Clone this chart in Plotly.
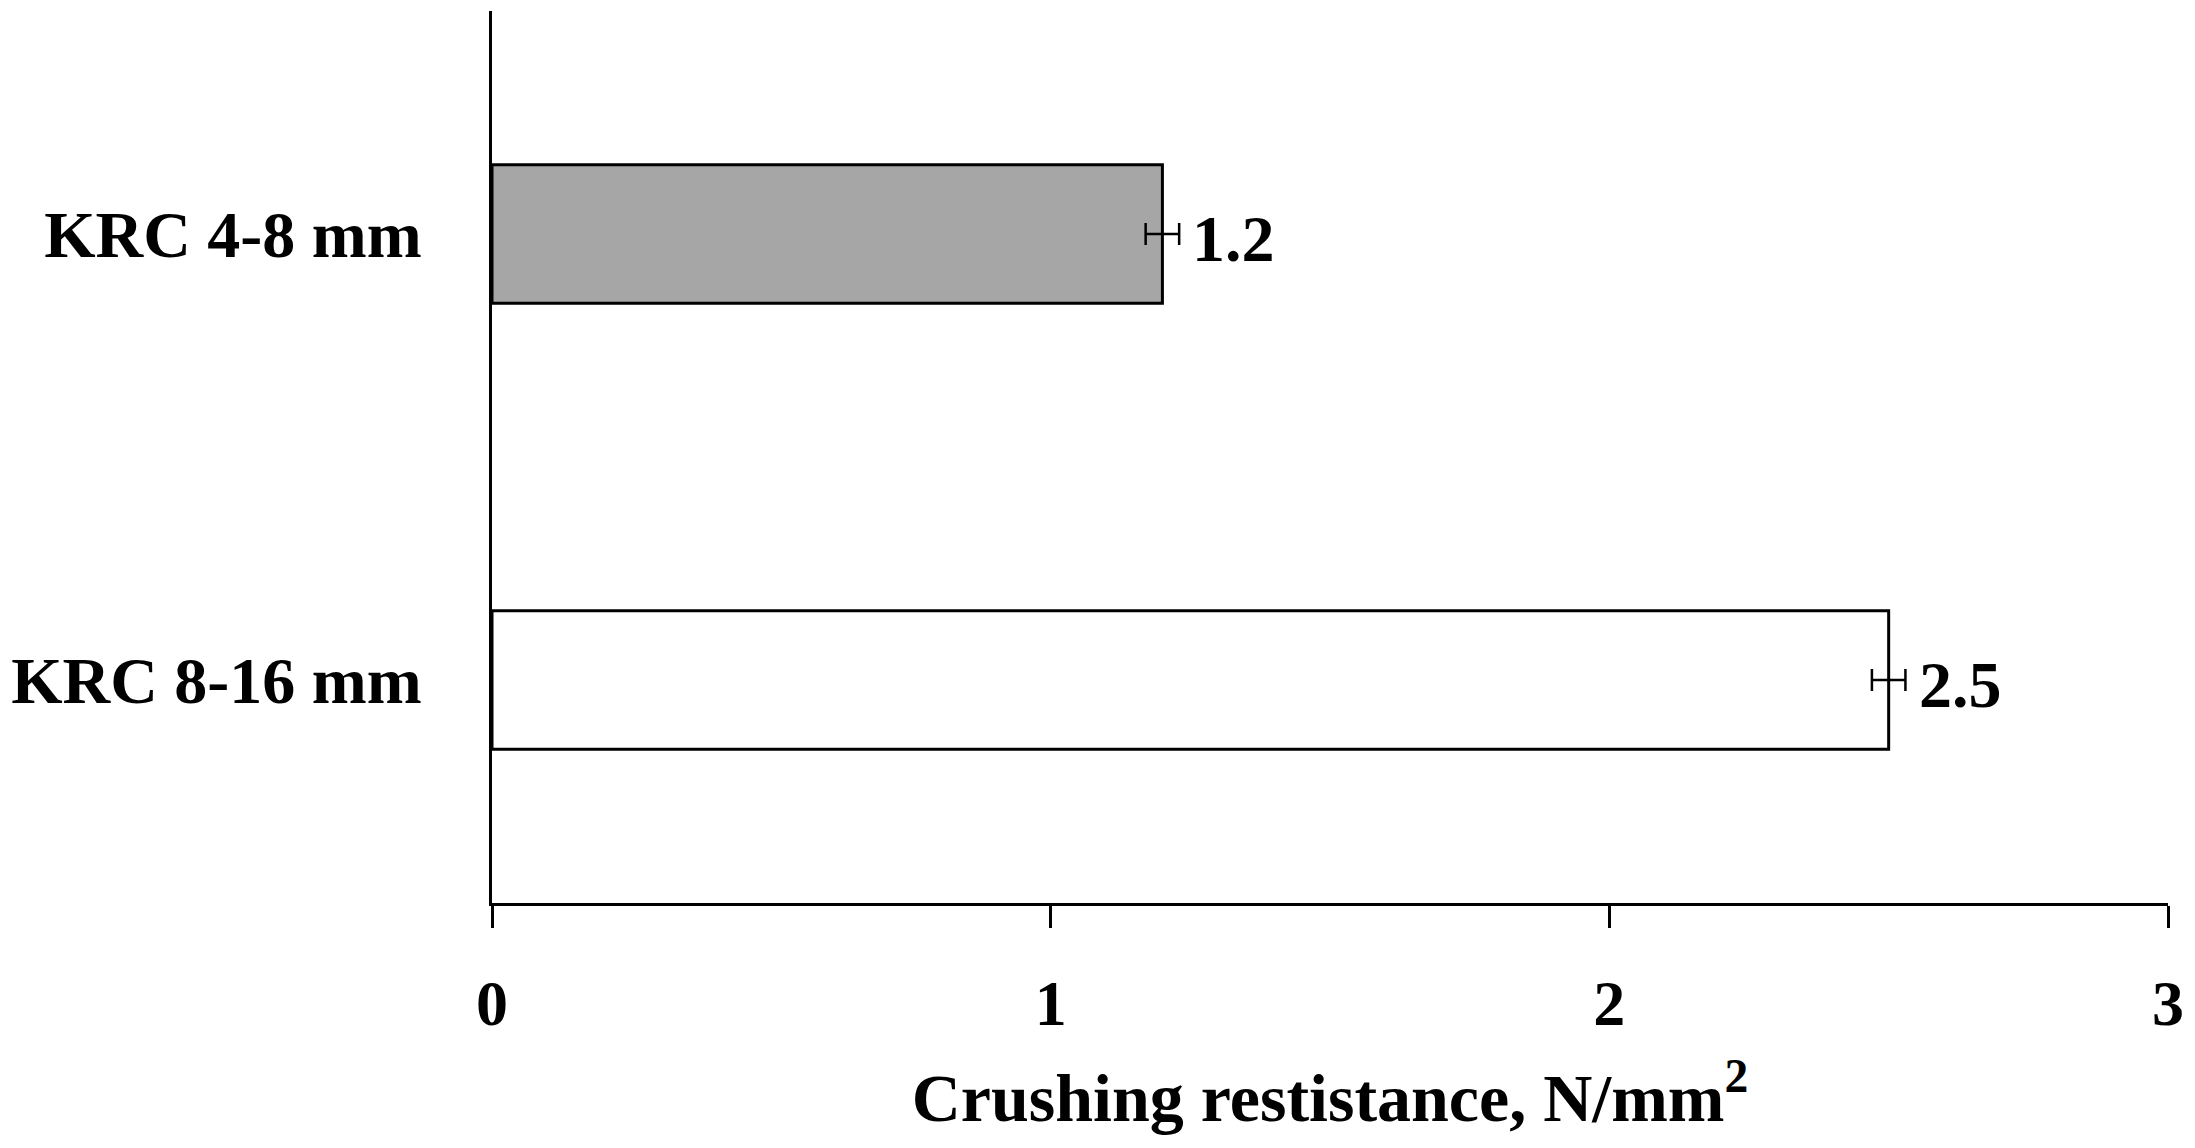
import plotly.graph_objects as go

categories = ["KRC 8-16 mm", "KRC 4-8 mm"]
values = [2.5, 1.2]
errors = [0.03, 0.03]
labels = ["2.5", "1.2"]
colors = ["#ffffff", "#a6a6a6"]
x_ticks = [0, 1, 2, 3]

FONT = "Liberation Serif"

fig = go.Figure()
fig.add_trace(go.Bar(
    y=categories, x=values, orientation="h",
    marker=dict(color=colors, line=dict(color="#000000", width=3)),
    width=0.31,
    error_x=dict(type="data", array=errors, color="#000000", thickness=2.5, width=11),
    showlegend=False,
))

for c, v, lab in zip(categories, values, labels):
    fig.add_annotation(x=v, y=c, text="<b>%s</b>" % lab, showarrow=False,
                       xanchor="left", yanchor="middle", xshift=28, yshift=-4,
                       font=dict(family=FONT, size=66, color="#000000"))

fig.update_layout(
    width=2195, height=1148,
    margin=dict(l=484, r=35, t=3, b=253),
    plot_bgcolor="#ffffff", paper_bgcolor="#ffffff",
    font=dict(family=FONT, color="#000000"),
    bargap=0.69,
)
fig.update_xaxes(
    range=[0, 3], tickvals=x_ticks, ticktext=["<b>%d</b>" % t for t in x_ticks],
    showline=True, linecolor="#000000", linewidth=3,
    ticks="outside", ticklen=22, tickwidth=3, tickcolor="#000000",
    showgrid=False, zeroline=False, automargin=False,
    tickfont=dict(family=FONT, size=64, color="#000000"),
    ticklabelstandoff=20,
    title=dict(text="<b>Crushing restistance, N/mm<sup>2</sup></b>",
               font=dict(family=FONT, size=68, color="#000000"), standoff=36),
)
fig.update_yaxes(
    categoryorder="array", categoryarray=categories,
    showline=True, linecolor="#000000", linewidth=3,
    ticks="", showgrid=False, zeroline=False, automargin=False,
    tickvals=categories, ticktext=["<b>%s</b>" % c for c in categories],
    tickfont=dict(family=FONT, size=66, color="#000000"),
    ticklabelstandoff=54,
)

fig.write_html("out.html")
